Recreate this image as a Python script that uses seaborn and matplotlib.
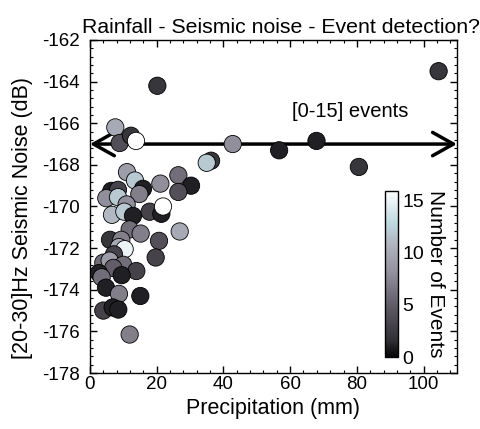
import numpy as np
import pandas as pd
import matplotlib
matplotlib.use("Agg")
import matplotlib.pyplot as plt
from matplotlib.colors import LinearSegmentedColormap, Normalize
from matplotlib.cm import ScalarMappable
from matplotlib.ticker import AutoMinorLocator, MultipleLocator
import seaborn as sns

# Daily precipitation (mm), 20-30 Hz seismic noise level (dB), detected events
precip = [20.2, 104.5, 42.8, 56.7, 67.9, 80.6, 36.3, 35.0, 7.6, 8.9,
          12.3, 13.8, 11.1, 13.5, 15.9, 14.8, 21.1, 26.5, 30.3, 26.5,
          6.4, 8.4, 4.9, 8.4, 11.0, 6.6, 10.3, 12.9, 17.9, 21.4,
          21.9, 11.9, 15.2, 26.9, 6.0, 9.4, 8.7, 10.4, 20.7, 19.7,
          7.2, 4.0, 5.9, 10.0, 7.0, 13.9, 2.7, 3.5, 9.5, 4.8,
          8.7, 15.1, 4.0, 6.8, 8.5, 11.9]
noise = [-164.2, -163.5, -167.0, -167.3, -166.85, -168.1, -167.8, -167.9, -166.2, -166.95,
         -166.6, -166.85, -168.35, -168.75, -169.15, -169.4, -168.9, -168.5, -169.0, -169.3,
         -169.25, -169.2, -169.6, -169.55, -169.9, -170.4, -170.25, -170.45, -170.25, -170.35,
         -170.0, -171.1, -171.3, -171.2, -171.6, -171.6, -171.95, -172.05, -171.65, -172.45,
         -172.3, -172.7, -172.6, -172.8, -172.95, -173.1, -173.2, -173.4, -173.3, -173.9,
         -174.2, -174.3, -175.0, -174.85, -174.95, -176.15]
events = [2, 2, 8, 1, 1, 2, 2, 12, 10, 4,
          2, 16, 9, 12, 1, 7, 8, 6, 1, 4,
          1, 3, 8, 12, 8, 11, 12, 1, 3, 1,
          16, 6, 7, 10, 2, 7, 10, 15, 4, 3,
          3, 6, 9, 6, 5, 3, 1, 6, 1, 1,
          7, 1, 3, 1, 1, 7]

df = pd.DataFrame({"precip": precip, "noise": noise, "events": events})

sns.set_theme(style="ticks")
plt.rcParams["font.family"] = ["Liberation Sans", "DejaVu Sans"]
plt.rcParams["axes.unicode_minus"] = False

cmap = LinearSegmentedColormap.from_list(
    "events_gray",
    [(0.00, (0.02, 0.02, 0.03)),
     (0.10, (0.19, 0.19, 0.21)),
     (0.30, (0.37, 0.35, 0.39)),
     (0.50, (0.57, 0.56, 0.61)),
     (0.68, (0.69, 0.71, 0.75)),
     (0.80, (0.74, 0.84, 0.87)),
     (1.00, (1.00, 1.00, 1.00))])
norm = Normalize(0, 16)

fig = plt.figure(figsize=(4.81, 4.29), dpi=100)
ax = fig.add_axes([0.187, 0.1305, 0.763, 0.7763])

sns.scatterplot(data=df, x="precip", y="noise", hue="events", palette=cmap,
                hue_norm=norm, s=155, edgecolor="black", linewidth=0.6,
                legend=False, ax=ax, zorder=3)

ax.set_xlim(0, 110)
ax.set_ylim(-178, -162)
ax.xaxis.set_major_locator(MultipleLocator(20))
ax.yaxis.set_major_locator(MultipleLocator(2))
ax.xaxis.set_minor_locator(AutoMinorLocator(5))
ax.yaxis.set_minor_locator(AutoMinorLocator(5))
ax.tick_params(which="both", direction="in", top=True, right=True, labelsize=13.5,
               color="black", labelcolor="black")
ax.tick_params(which="major", length=5, width=1)
ax.tick_params(which="minor", length=2.5, width=0.8)
ax.tick_params(axis="y", which="major", pad=7)
ax.tick_params(axis="x", which="major", pad=2.5)
for sp in ax.spines.values():
    sp.set_linewidth(1.0)
    sp.set_color("black")

ax.set_xlabel("Precipitation (mm)", fontsize=15.5, color="black", labelpad=3)
ax.set_ylabel("[20-30]Hz Seismic Noise (dB)", fontsize=15.5, color="black")
ax.yaxis.set_label_coords(-0.155, 0.466)
ax.set_title("Rainfall - Seismic noise - Event detection?", fontsize=15.3,
             color="black", x=0.52, pad=5)

# Range of detected events across precipitation
ax.annotate("", xy=(0, -167), xytext=(110, -167),
            arrowprops=dict(arrowstyle="<->,head_length=0.75,head_width=0.42",
                            lw=2.5, color="black", shrinkA=0, shrinkB=0,
                            mutation_scale=20),
            annotation_clip=False, zorder=2)
ax.text(78, -165.45, "[0-15] events", fontsize=14.5, ha="center", va="center",
        color="black")

# Colour bar placed inside the axes
cax = ax.inset_axes([0.804, 0.048, 0.036, 0.50])
sm = ScalarMappable(norm=norm, cmap=cmap)
cb = fig.colorbar(sm, cax=cax, ticks=[0, 5, 10, 15])
cb.outline.set_linewidth(1.0)
cb.outline.set_edgecolor("black")
cax.tick_params(direction="in", left=True, right=True, length=3, labelsize=14,
                color="black", labelcolor="black", pad=3)
cb.set_label("Number of Events", rotation=270, fontsize=15, labelpad=15,
             color="black")

fig.savefig("out.png", dpi=100)
